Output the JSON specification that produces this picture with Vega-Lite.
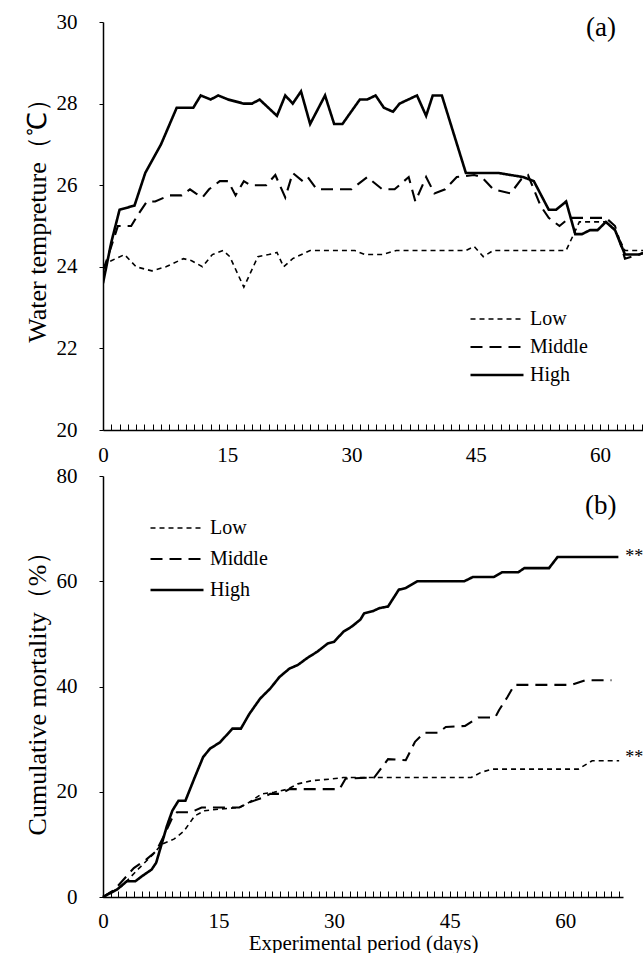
{
  "$schema": "https://vega.github.io/schema/vega-lite/v6.json",
  "background": "white",
  "padding": {"left": 24, "top": 11, "right": 0, "bottom": 0},
  "bounds": "flush",
  "spacing": 46,
  "config": {
    "view": {"stroke": null},
    "font": "Liberation Serif, Times New Roman, serif",
    "axis": {"domainColor": "black", "domainWidth": 1.5, "tickColor": "black", "tickWidth": 1, "labelColor": "black", "titleColor": "black", "labelFont": "Liberation Serif, Times New Roman, serif", "titleFont": "Liberation Serif, Times New Roman, serif", "grid": false, "titleFontWeight": "normal", "labelFontSize": 21},
    "legend": {"labelFont": "Liberation Serif, Times New Roman, serif", "labelFontSize": 20, "labelColor": "black", "symbolStrokeColor": "black", "padding": 0, "titlePadding": 0},
    "text": {"font": "Liberation Serif, Times New Roman, serif"}
  },
  "datasets": {
    "temp": [
      {"day": 0, "level": "High", "value": 23.6}, {"day": 1, "level": "High", "value": 24.6}, {"day": 2, "level": "High", "value": 25.4}, {"day": 3.8, "level": "High", "value": 25.5}, {"day": 5.1, "level": "High", "value": 26.3}, {"day": 7, "level": "High", "value": 27.0}, {"day": 8.9, "level": "High", "value": 27.9}, {"day": 10.9, "level": "High", "value": 27.9}, {"day": 11.8, "level": "High", "value": 28.2}, {"day": 13, "level": "High", "value": 28.1}, {"day": 13.9, "level": "High", "value": 28.2}, {"day": 15.1, "level": "High", "value": 28.1}, {"day": 17, "level": "High", "value": 28.0}, {"day": 18, "level": "High", "value": 28.0}, {"day": 18.9, "level": "High", "value": 28.1}, {"day": 21, "level": "High", "value": 27.7}, {"day": 22, "level": "High", "value": 28.2}, {"day": 22.9, "level": "High", "value": 28.0}, {"day": 23.9, "level": "High", "value": 28.3}, {"day": 25, "level": "High", "value": 27.5}, {"day": 26.8, "level": "High", "value": 28.2}, {"day": 27.9, "level": "High", "value": 27.5}, {"day": 28.9, "level": "High", "value": 27.5}, {"day": 31, "level": "High", "value": 28.1}, {"day": 31.9, "level": "High", "value": 28.1}, {"day": 32.9, "level": "High", "value": 28.2}, {"day": 33.9, "level": "High", "value": 27.9}, {"day": 35, "level": "High", "value": 27.8}, {"day": 35.8, "level": "High", "value": 28.0}, {"day": 37.9, "level": "High", "value": 28.2}, {"day": 39, "level": "High", "value": 27.7}, {"day": 39.8, "level": "High", "value": 28.2}, {"day": 40.9, "level": "High", "value": 28.2}, {"day": 43.8, "level": "High", "value": 26.3}, {"day": 47.7, "level": "High", "value": 26.3}, {"day": 50.7, "level": "High", "value": 26.2}, {"day": 52, "level": "High", "value": 26.1}, {"day": 53.8, "level": "High", "value": 25.4}, {"day": 54.7, "level": "High", "value": 25.4}, {"day": 55.9, "level": "High", "value": 25.6}, {"day": 57, "level": "High", "value": 24.8}, {"day": 57.8, "level": "High", "value": 24.8}, {"day": 58.8, "level": "High", "value": 24.9}, {"day": 59.7, "level": "High", "value": 24.9}, {"day": 60.7, "level": "High", "value": 25.1}, {"day": 61.8, "level": "High", "value": 24.9}, {"day": 63, "level": "High", "value": 24.3}, {"day": 64.7, "level": "High", "value": 24.3}, {"day": 66, "level": "High", "value": 24.4},
      {"day": 0, "level": "Middle", "value": 23.9}, {"day": 1, "level": "Middle", "value": 24.5}, {"day": 1.8, "level": "Middle", "value": 25.0}, {"day": 3.4, "level": "Middle", "value": 25.0}, {"day": 4.3, "level": "Middle", "value": 25.3}, {"day": 5.3, "level": "Middle", "value": 25.6}, {"day": 6.3, "level": "Middle", "value": 25.6}, {"day": 8.0, "level": "Middle", "value": 25.75}, {"day": 9.5, "level": "Middle", "value": 25.75}, {"day": 10.5, "level": "Middle", "value": 25.9}, {"day": 11.2, "level": "Middle", "value": 25.8}, {"day": 12.0, "level": "Middle", "value": 25.7}, {"day": 12.8, "level": "Middle", "value": 25.9}, {"day": 14.1, "level": "Middle", "value": 26.1}, {"day": 15.1, "level": "Middle", "value": 26.1}, {"day": 16.0, "level": "Middle", "value": 25.75}, {"day": 17.0, "level": "Middle", "value": 26.1}, {"day": 17.8, "level": "Middle", "value": 26.0}, {"day": 19.7, "level": "Middle", "value": 26.0}, {"day": 20.8, "level": "Middle", "value": 26.25}, {"day": 22.0, "level": "Middle", "value": 25.7}, {"day": 22.9, "level": "Middle", "value": 26.3}, {"day": 24.1, "level": "Middle", "value": 26.1}, {"day": 24.7, "level": "Middle", "value": 26.2}, {"day": 25.8, "level": "Middle", "value": 25.9}, {"day": 28.7, "level": "Middle", "value": 25.9}, {"day": 30.0, "level": "Middle", "value": 25.9}, {"day": 31.9, "level": "Middle", "value": 26.2}, {"day": 33.7, "level": "Middle", "value": 25.9}, {"day": 35.2, "level": "Middle", "value": 25.9}, {"day": 36.9, "level": "Middle", "value": 26.2}, {"day": 37.7, "level": "Middle", "value": 25.6}, {"day": 39.0, "level": "Middle", "value": 26.2}, {"day": 40.0, "level": "Middle", "value": 25.8}, {"day": 41.3, "level": "Middle", "value": 25.9}, {"day": 42.7, "level": "Middle", "value": 26.2}, {"day": 44.8, "level": "Middle", "value": 26.25}, {"day": 45.7, "level": "Middle", "value": 26.2}, {"day": 47.1, "level": "Middle", "value": 25.9}, {"day": 49.2, "level": "Middle", "value": 25.8}, {"day": 50.5, "level": "Middle", "value": 26.15}, {"day": 51.3, "level": "Middle", "value": 26.25}, {"day": 52.8, "level": "Middle", "value": 25.5}, {"day": 53.8, "level": "Middle", "value": 25.2}, {"day": 55.1, "level": "Middle", "value": 25.0}, {"day": 56.3, "level": "Middle", "value": 25.2}, {"day": 60.7, "level": "Middle", "value": 25.2}, {"day": 61.8, "level": "Middle", "value": 25.0}, {"day": 63.0, "level": "Middle", "value": 24.2}, {"day": 64.7, "level": "Middle", "value": 24.3}, {"day": 66, "level": "Middle", "value": 24.4},
      {"day": 0, "level": "Low", "value": 24.0}, {"day": 1, "level": "Low", "value": 24.15}, {"day": 2.6, "level": "Low", "value": 24.3}, {"day": 4.0, "level": "Low", "value": 24.0}, {"day": 5.9, "level": "Low", "value": 23.9}, {"day": 7.6, "level": "Low", "value": 24.0}, {"day": 9.7, "level": "Low", "value": 24.2}, {"day": 10.7, "level": "Low", "value": 24.15}, {"day": 12.0, "level": "Low", "value": 24.0}, {"day": 13.2, "level": "Low", "value": 24.3}, {"day": 14.5, "level": "Low", "value": 24.4}, {"day": 15.3, "level": "Low", "value": 24.25}, {"day": 17.0, "level": "Low", "value": 23.5}, {"day": 18.7, "level": "Low", "value": 24.25}, {"day": 20.0, "level": "Low", "value": 24.3}, {"day": 21.0, "level": "Low", "value": 24.35}, {"day": 21.8, "level": "Low", "value": 24.0}, {"day": 22.9, "level": "Low", "value": 24.2}, {"day": 25.0, "level": "Low", "value": 24.4}, {"day": 30.4, "level": "Low", "value": 24.4}, {"day": 31.6, "level": "Low", "value": 24.3}, {"day": 33.7, "level": "Low", "value": 24.3}, {"day": 35.4, "level": "Low", "value": 24.4}, {"day": 43.8, "level": "Low", "value": 24.4}, {"day": 44.8, "level": "Low", "value": 24.5}, {"day": 45.9, "level": "Low", "value": 24.25}, {"day": 47.1, "level": "Low", "value": 24.4}, {"day": 55.9, "level": "Low", "value": 24.4}, {"day": 57.5, "level": "Low", "value": 25.1}, {"day": 60.7, "level": "Low", "value": 25.1}, {"day": 61.8, "level": "Low", "value": 24.9}, {"day": 63.0, "level": "Low", "value": 24.4}, {"day": 66, "level": "Low", "value": 24.4}
    ],
    "mort": [
      {"day": 0, "level": "High", "value": 0}, {"day": 1.8, "level": "High", "value": 1.4}, {"day": 3.1, "level": "High", "value": 3.0}, {"day": 4.2, "level": "High", "value": 3.0}, {"day": 5.1, "level": "High", "value": 4.0}, {"day": 6.3, "level": "High", "value": 5.2}, {"day": 6.9, "level": "High", "value": 6.5}, {"day": 7.6, "level": "High", "value": 10.0}, {"day": 8.3, "level": "High", "value": 13.5}, {"day": 9.0, "level": "High", "value": 16.4}, {"day": 9.8, "level": "High", "value": 18.3}, {"day": 10.7, "level": "High", "value": 18.3}, {"day": 11.9, "level": "High", "value": 22.7}, {"day": 13.0, "level": "High", "value": 26.6}, {"day": 13.9, "level": "High", "value": 28.2}, {"day": 15.2, "level": "High", "value": 29.4}, {"day": 16.8, "level": "High", "value": 32.0}, {"day": 17.9, "level": "High", "value": 32.0}, {"day": 19.0, "level": "High", "value": 34.8}, {"day": 20.4, "level": "High", "value": 37.7}, {"day": 21.7, "level": "High", "value": 39.6}, {"day": 22.9, "level": "High", "value": 41.8}, {"day": 24.2, "level": "High", "value": 43.4}, {"day": 25.3, "level": "High", "value": 44.1}, {"day": 26.5, "level": "High", "value": 45.4}, {"day": 27.8, "level": "High", "value": 46.6}, {"day": 29.2, "level": "High", "value": 48.2}, {"day": 30.0, "level": "High", "value": 48.5}, {"day": 31.2, "level": "High", "value": 50.4}, {"day": 32.3, "level": "High", "value": 51.4}, {"day": 33.4, "level": "High", "value": 52.7}, {"day": 33.9, "level": "High", "value": 53.9}, {"day": 35.0, "level": "High", "value": 54.3}, {"day": 35.9, "level": "High", "value": 54.9}, {"day": 37.0, "level": "High", "value": 55.2}, {"day": 38.4, "level": "High", "value": 58.4}, {"day": 39.3, "level": "High", "value": 58.7}, {"day": 40.8, "level": "High", "value": 60.0}, {"day": 46.9, "level": "High", "value": 60.0}, {"day": 48.0, "level": "High", "value": 60.8}, {"day": 50.7, "level": "High", "value": 60.8}, {"day": 51.8, "level": "High", "value": 61.7}, {"day": 53.9, "level": "High", "value": 61.7}, {"day": 54.7, "level": "High", "value": 62.5}, {"day": 57.9, "level": "High", "value": 62.5}, {"day": 59.0, "level": "High", "value": 64.6}, {"day": 66.9, "level": "High", "value": 64.6},
      {"day": 0, "level": "Middle", "value": 0}, {"day": 1.5, "level": "Middle", "value": 1.4}, {"day": 4.0, "level": "Middle", "value": 5.5}, {"day": 5.6, "level": "Middle", "value": 7.1}, {"day": 6.9, "level": "Middle", "value": 8.7}, {"day": 8.0, "level": "Middle", "value": 11.9}, {"day": 9.0, "level": "Middle", "value": 15.1}, {"day": 9.6, "level": "Middle", "value": 16.1}, {"day": 11.4, "level": "Middle", "value": 16.1}, {"day": 12.8, "level": "Middle", "value": 17.0}, {"day": 17.7, "level": "Middle", "value": 17.0}, {"day": 19.0, "level": "Middle", "value": 18.0}, {"day": 20.8, "level": "Middle", "value": 18.9}, {"day": 21.7, "level": "Middle", "value": 19.6}, {"day": 23.1, "level": "Middle", "value": 19.6}, {"day": 24.2, "level": "Middle", "value": 20.5}, {"day": 30.7, "level": "Middle", "value": 20.5}, {"day": 31.5, "level": "Middle", "value": 22.5}, {"day": 35.2, "level": "Middle", "value": 22.7}, {"day": 37.0, "level": "Middle", "value": 26.2}, {"day": 39.3, "level": "Middle", "value": 26.0}, {"day": 40.5, "level": "Middle", "value": 29.5}, {"day": 41.7, "level": "Middle", "value": 31.2}, {"day": 43.5, "level": "Middle", "value": 31.2}, {"day": 44.5, "level": "Middle", "value": 32.3}, {"day": 47.0, "level": "Middle", "value": 32.5}, {"day": 48.7, "level": "Middle", "value": 34.1}, {"day": 50.9, "level": "Middle", "value": 34.1}, {"day": 51.4, "level": "Middle", "value": 35.5}, {"day": 52.5, "level": "Middle", "value": 38.0}, {"day": 53.4, "level": "Middle", "value": 40.3}, {"day": 60.8, "level": "Middle", "value": 40.3}, {"day": 62.6, "level": "Middle", "value": 41.2}, {"day": 66.0, "level": "Middle", "value": 41.2},
      {"day": 0, "level": "Low", "value": 0}, {"day": 2.4, "level": "Low", "value": 2.0}, {"day": 4.7, "level": "Low", "value": 5.5}, {"day": 6.5, "level": "Low", "value": 8.1}, {"day": 7.6, "level": "Low", "value": 10.0}, {"day": 9.2, "level": "Low", "value": 11.0}, {"day": 10.5, "level": "Low", "value": 12.5}, {"day": 11.9, "level": "Low", "value": 15.4}, {"day": 13.2, "level": "Low", "value": 16.4}, {"day": 15.0, "level": "Low", "value": 16.7}, {"day": 17.7, "level": "Low", "value": 17.0}, {"day": 19.0, "level": "Low", "value": 18.0}, {"day": 20.6, "level": "Low", "value": 19.6}, {"day": 22.2, "level": "Low", "value": 19.9}, {"day": 24.0, "level": "Low", "value": 20.5}, {"day": 25.3, "level": "Low", "value": 21.5}, {"day": 27.1, "level": "Low", "value": 22.1}, {"day": 29.4, "level": "Low", "value": 22.4}, {"day": 31.2, "level": "Low", "value": 22.7}, {"day": 47.8, "level": "Low", "value": 22.7}, {"day": 49.1, "level": "Low", "value": 23.7}, {"day": 50.5, "level": "Low", "value": 24.3}, {"day": 61.7, "level": "Low", "value": 24.3}, {"day": 63.5, "level": "Low", "value": 25.9}, {"day": 67.0, "level": "Low", "value": 25.9}
    ],
    "tagA": [{"day": 60.1, "value": 29.85, "label": "(a)"}],
    "tagB": [{"day": 64.6, "value": 74.3, "label": "(b)"}],
    "stars": [{"day": 67.8, "value": 64.6, "label": "**"}, {"day": 67.8, "value": 26.5, "label": "**"}]
  },
  "vconcat": [
    {
      "width": 541,
      "height": 408,
      "layer": [
        {
          "data": {"name": "temp"},
          "mark": {"type": "line", "clip": true, "color": "black"},
          "encoding": {
            "x": {"field": "day", "type": "quantitative", "scale": {"domain": [0, 65.3], "nice": false, "zero": false},
              "axis": {"title": null, "tickCount": 66, "labelExpr": "datum.value % 15 === 0 ? datum.label : ''", "labelOverlap": false, "labelFlush": false, "tickSize": -6, "labelPadding": 20}},
            "y": {"field": "value", "type": "quantitative", "scale": {"domain": [20, 30], "nice": false, "zero": false},
              "axis": {"title": "Water tempreture（℃）", "values": [20, 22, 24, 26, 28, 30], "tickSize": 4, "labelPadding": 22, "titleFontSize": 26, "titlePadding": 6, "titleY": 192}},
            "strokeDash": {"field": "level", "type": "nominal", "scale": {"domain": ["Low", "Middle", "High"], "range": [[5, 4], [12, 7], [1, 0]]},
              "legend": {"title": null, "orient": "none", "legendX": 366, "legendY": 287, "symbolType": "stroke", "symbolSize": 2809, "clipHeight": 20, "rowPadding": 8, "labelOffset": 5}},
            "strokeWidth": {"field": "level", "type": "nominal", "scale": {"domain": ["Low", "Middle", "High"], "range": [1.6, 2.6, 2.6]},
              "legend": {"title": null, "orient": "none", "legendX": 366, "legendY": 287, "symbolType": "stroke", "symbolSize": 2809, "clipHeight": 20, "rowPadding": 8, "labelOffset": 5}}
          }
        },
        {
          "data": {"name": "tagA"},
          "mark": {"type": "text", "fontSize": 27, "font": "Liberation Serif, Times New Roman, serif", "color": "black"},
          "encoding": {
            "x": {"field": "day", "type": "quantitative"},
            "y": {"field": "value", "type": "quantitative"},
            "text": {"field": "label"}
          }
        }
      ]
    },
    {
      "width": 520,
      "height": 421,
      "layer": [
        {
          "data": {"name": "mort"},
          "mark": {"type": "line", "color": "black"},
          "encoding": {
            "x": {"field": "day", "type": "quantitative", "scale": {"domain": [0, 67.5], "nice": false, "zero": false},
              "axis": {"title": "Experimental period (days)", "titleFontSize": 21, "titlePadding": 1, "tickCount": 68, "labelExpr": "datum.value % 15 === 0 ? datum.label : ''", "labelOverlap": false, "labelFlush": false, "tickSize": -6, "labelPadding": 19}},
            "y": {"field": "value", "type": "quantitative", "scale": {"domain": [0, 80], "nice": false, "zero": false},
              "axis": {"title": "Cumulative mortality（%）", "values": [0, 20, 40, 60, 80], "tickSize": 4, "labelPadding": 22, "titleFontSize": 26, "titlePadding": 6}},
            "strokeDash": {"field": "level", "type": "nominal", "scale": {"domain": ["Low", "Middle", "High"], "range": [[5, 4], [12, 7], [1, 0]]},
              "legend": {"title": null, "orient": "none", "legendX": 46, "legendY": 42, "symbolType": "stroke", "symbolSize": 2809, "clipHeight": 20, "rowPadding": 11, "labelOffset": 5}},
            "strokeWidth": {"field": "level", "type": "nominal", "scale": {"domain": ["Low", "Middle", "High"], "range": [1.6, 2.6, 2.6]},
              "legend": {"title": null, "orient": "none", "legendX": 46, "legendY": 42, "symbolType": "stroke", "symbolSize": 2809, "clipHeight": 20, "rowPadding": 11, "labelOffset": 5}}
          }
        },
        {
          "data": {"name": "tagB"},
          "mark": {"type": "text", "fontSize": 27, "font": "Liberation Serif, Times New Roman, serif", "color": "black"},
          "encoding": {
            "x": {"field": "day", "type": "quantitative"},
            "y": {"field": "value", "type": "quantitative"},
            "text": {"field": "label"}
          }
        },
        {
          "data": {"name": "stars"},
          "mark": {"type": "text", "fontSize": 18, "font": "Liberation Serif, Times New Roman, serif", "color": "black", "align": "left", "baseline": "middle"},
          "encoding": {
            "x": {"field": "day", "type": "quantitative"},
            "y": {"field": "value", "type": "quantitative"},
            "text": {"field": "label"}
          }
        }
      ]
    }
  ],
  "resolve": {
    "scale": {"x": "independent", "y": "independent", "strokeDash": "independent", "strokeWidth": "independent"},
    "legend": {"strokeDash": "independent", "strokeWidth": "independent"}
  }
}
